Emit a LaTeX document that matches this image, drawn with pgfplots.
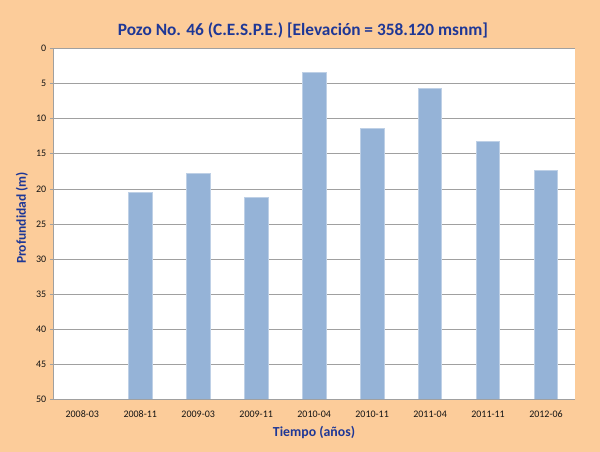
\documentclass[border=0pt]{standalone}
\usepackage{pgfplots}
\pgfplotsset{compat=1.18}
\usepackage{fontspec}
\setmainfont{Carlito}
\definecolor{peach}{RGB}{252,204,154}
\definecolor{barblue}{RGB}{149,179,215}
\definecolor{baredge}{RGB}{190,208,230}
\definecolor{titleblue}{RGB}{30,55,150}
\definecolor{gridgray}{RGB}{160,160,160}
\definecolor{ticktext}{RGB}{20,20,20}
\begin{document}
\begin{tikzpicture}[x=1pt,y=1pt]
\fill[peach] (0,0) rectangle (600,452);
\begin{axis}[
  at={(53.3pt,52.5pt)}, anchor=south west,
  scale only axis, width=521.7pt, height=351pt,
  xmin=-0.5, xmax=8.5, ymin=0, ymax=50, y dir=reverse,
  axis background/.style={fill=white},
  axis line style={draw=none},
  xtick={0,1,2,3,4,5,6,7,8},
  xticklabels={2008-03,2008-11,2009-03,2009-11,2010-04,2010-11,2011-04,2011-11,2012-06},
  xtick style={draw=none},
  ytick={0,5,10,15,20,25,30,35,40,45,50},
  ytick pos=left, tick align=outside, major tick length=3.5pt,
  ytick style={gridgray, line width=0.8pt},
  ymajorgrids, grid style={gridgray, line width=0.8pt},
  ticklabel style={font=\fontsize{10}{11}\selectfont, text=ticktext},
  xticklabel style={yshift=-4pt},
  /pgf/number format/assume math mode=true,
]
\addplot[fill=barblue, draw=baredge] coordinates {(0.8,50) (0.8,20.4) (1.2,20.4) (1.2,50)} -- cycle;
\addplot[fill=barblue, draw=baredge] coordinates {(1.8,50) (1.8,17.8) (2.2,17.8) (2.2,50)} -- cycle;
\addplot[fill=barblue, draw=baredge] coordinates {(2.8,50) (2.8,21.25) (3.2,21.25) (3.2,50)} -- cycle;
\addplot[fill=barblue, draw=baredge] coordinates {(3.8,50) (3.8,3.4) (4.2,3.4) (4.2,50)} -- cycle;
\addplot[fill=barblue, draw=baredge] coordinates {(4.8,50) (4.8,11.37) (5.2,11.37) (5.2,50)} -- cycle;
\addplot[fill=barblue, draw=baredge] coordinates {(5.8,50) (5.8,5.67) (6.2,5.67) (6.2,50)} -- cycle;
\addplot[fill=barblue, draw=baredge] coordinates {(6.8,50) (6.8,13.27) (7.2,13.27) (7.2,50)} -- cycle;
\addplot[fill=barblue, draw=baredge] coordinates {(7.8,50) (7.8,17.4) (8.2,17.4) (8.2,50)} -- cycle;
\end{axis}
\draw[gridgray, line width=0.8pt] (53.3,403.5) -- (53.3,52.5) -- (575,52.5);
\node[font=\bfseries\fontsize{17.3}{19}\selectfont, text=titleblue] at (303,422) {Pozo No. 46 (C.E.S.P.E.) [Elevación = 358.120 msnm]};
\node[font=\bfseries\fontsize{13.8}{15}\selectfont, text=titleblue] at (314,20) {Tiempo (años)};
\node[font=\bfseries\fontsize{13.5}{15}\selectfont, text=titleblue, rotate=90] at (22,234) {Profundidad (m)};
\end{tikzpicture}
\end{document}
